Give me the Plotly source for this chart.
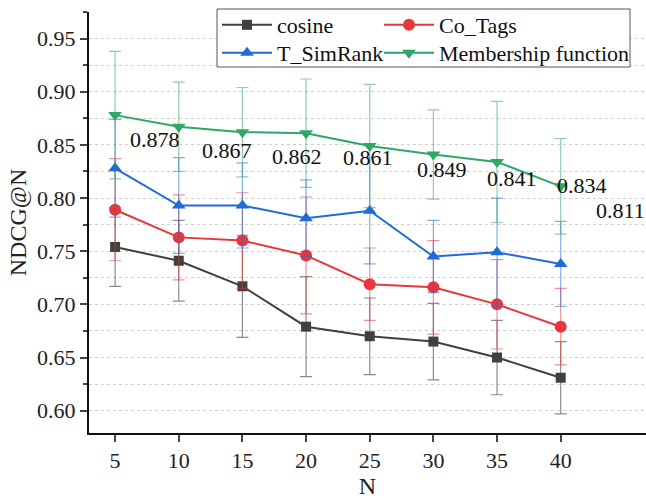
import plotly.graph_objects as go

N = [5, 10, 15, 20, 25, 30, 35, 40]
cosine = [0.754, 0.741, 0.717, 0.679, 0.670, 0.665, 0.650, 0.631]
cosine_err = [0.037, 0.038, 0.048, 0.047, 0.036, 0.036, 0.035, 0.034]
co_tags = [0.789, 0.763, 0.760, 0.746, 0.719, 0.716, 0.700, 0.679]
co_tags_err = [0.048, 0.040, 0.045, 0.055, 0.034, 0.044, 0.042, 0.036]
t_simrank = [0.828, 0.793, 0.793, 0.781, 0.788, 0.745, 0.749, 0.738]
t_simrank_err = [0.046, 0.045, 0.040, 0.036, 0.050, 0.034, 0.051, 0.040]
membership = [0.878, 0.867, 0.862, 0.861, 0.849, 0.841, 0.834, 0.811]
membership_err = [0.060, 0.042, 0.042, 0.051, 0.058, 0.042, 0.057, 0.045]
labels = ["0.878", "0.867", "0.862", "0.861", "0.849", "0.841", "0.834", "0.811"]
y_ticks = [0.60, 0.65, 0.70, 0.75, 0.80, 0.85, 0.90, 0.95]

# label pixel offsets (styling)
label_xshift = [40, 48, 55, 62, 72, 79, 85, 60]
label_yshift = -24

FONT = "Liberation Serif, Times New Roman, serif"

# plot-area geometry in pixels (styling)
W, H = 646, 502
ML, MR, MT, MB = 89, 0, 12, 69
PW, PH = W - ML - MR, H - MT - MB


def fx(px):
    return (px - ML) / PW


def fy(py):
    return (H - MB - py) / PH


# name, values, errors, colour, error colour, symbol, size, legend id, legend px position
series = [
    ("cosine", cosine, cosine_err, "#404040", "rgba(64,64,64,0.6)", "square", 10, "legend", (217, 25)),
    ("Co_Tags", co_tags, co_tags_err, "#e8363b", "rgba(232,54,59,0.55)", "circle", 12, "legend2", (379, 25)),
    ("T_SimRank", t_simrank, t_simrank_err, "#1f6bd8", "rgba(31,107,216,0.55)", "triangle-up", 12, "legend3", (217, 53)),
    ("Membership function", membership, membership_err, "#2fa866", "rgba(47,168,102,0.55)", "triangle-down", 12, "legend4", (379, 53)),
]

fig = go.Figure()
legends = {}
for name, vals, err, col, ecol, sym, sz, leg, (lx, ly) in series:
    fig.add_trace(go.Scatter(
        x=N, y=vals, name=name, mode="lines+markers", legend=leg,
        line=dict(color=col, width=2),
        marker=dict(symbol=sym, size=sz, color=col),
        error_y=dict(type="data", array=err, visible=True, color=ecol,
                     thickness=1.2, width=6),
    ))
    legends[leg] = dict(orientation="v", x=fx(lx), y=fy(ly),
                        xanchor="left", yanchor="middle",
                        bgcolor="rgba(0,0,0,0)", borderwidth=0,
                        font=dict(family=FONT, size=22, color="#111111"),
                        itemwidth=50)

for xv, yv, lab, xs in zip(N, membership, labels, label_xshift):
    fig.add_annotation(x=xv, y=yv, text=lab, showarrow=False,
                       xshift=xs, yshift=label_yshift,
                       font=dict(family=FONT, size=22, color="#111111"))

# legend frame
fig.add_shape(type="rect", xref="paper", yref="paper",
              x0=fx(217), x1=fx(630), y0=fy(67), y1=fy(9),
              line=dict(color="#555555", width=1), fillcolor="white",
              layer="above")

fig.update_layout(
    width=W, height=H,
    margin=dict(l=ML, r=MR, t=MT, b=MB, autoexpand=False),
    paper_bgcolor="white", plot_bgcolor="white",
    font=dict(family=FONT, size=22, color="#222222"),
    showlegend=True,
    xaxis=dict(
        range=[2.95, 46.7], tickvals=N, ticks="outside", ticklen=7,
        tickwidth=1.5, showline=True, linecolor="#111111", linewidth=2,
        showgrid=False, zeroline=False, automargin=False,
        title=dict(text="N", font=dict(family=FONT, size=24), standoff=2),
        tickfont=dict(family=FONT, size=22),
    ),
    yaxis=dict(
        range=[0.579, 0.975], tickvals=y_ticks, tickformat=".2f",
        ticks="outside", ticklen=7, tickwidth=1.5,
        showline=True, linecolor="#111111", linewidth=2,
        showgrid=True, gridcolor="#cfcfcf", griddash="dot", gridwidth=1,
        zeroline=False, automargin=False,
        minor=dict(dtick=0.025, tick0=0.575, ticks="outside", ticklen=4,
                   showgrid=True, gridcolor="#cfcfcf", griddash="dot"),
        title=dict(text="NDCG@N", font=dict(family=FONT, size=24), standoff=4),
        tickfont=dict(family=FONT, size=22),
    ),
    **legends,
)

fig.write_html("out.html",
               config={"displayModeBar": False},
               post_script="document.body.style.margin='0';document.body.style.overflow='hidden';")
